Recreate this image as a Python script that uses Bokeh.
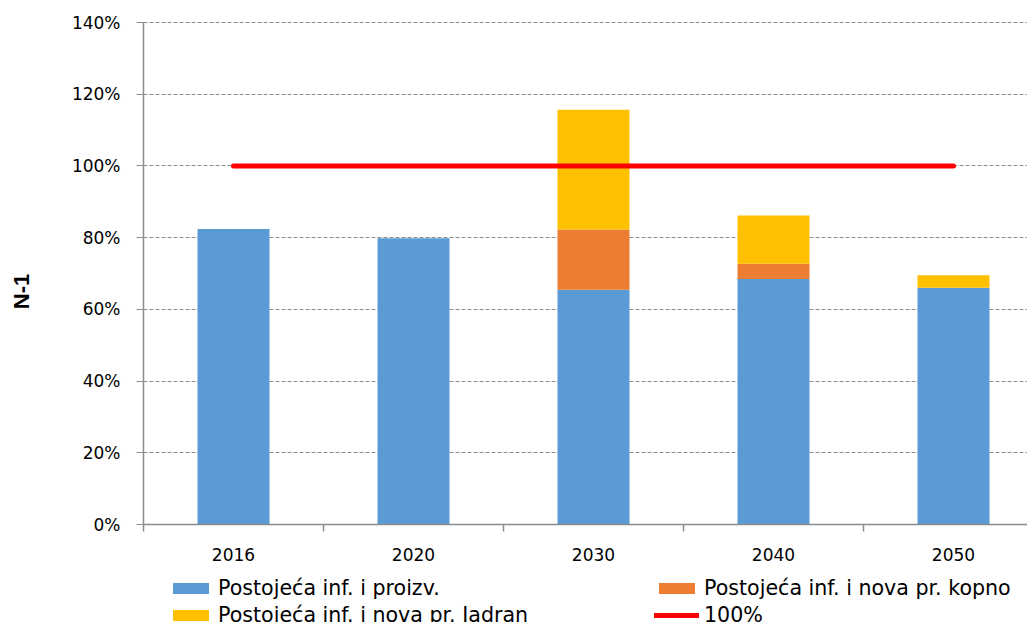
import math
from bokeh.plotting import figure
from bokeh.models import (ColumnDataSource, FixedTicker, Legend, LegendItem,
                          Range1d, NumeralTickFormatter, Label)
from bokeh.embed import file_html
from bokeh.resources import INLINE

categories = ["2016", "2020", "2030", "2040", "2050"]
existing = [0.824, 0.798, 0.655, 0.685, 0.660]       # Postojeća inf. i proizv.
new_land = [0.0, 0.0, 0.168, 0.042, 0.0]            # Postojeća inf. i nova pr. kopno
new_adriatic = [0.0, 0.0, 0.334, 0.135, 0.035]      # Postojeća inf. i nova pr. Jadran
limit = [1.0, 1.0, 1.0, 1.0, 1.0]                   # 100%
y_ticks = [0.0, 0.2, 0.4, 0.6, 0.8, 1.0, 1.2, 1.4]
y_title = "N-1"

labels = ["Postojeća inf. i proizv.", "Postojeća inf. i nova pr. kopno",
          "Postojeća inf. i nova pr. Jadran", "100%"]
colors = ["#5B9BD5", "#ED7D31", "#FFC000"]

xpos = [i + 0.5 for i in range(len(categories))]
src = ColumnDataSource(dict(x=xpos, existing=existing, new_land=new_land,
                            new_adriatic=new_adriatic, limit=limit))

# layout (pixels): the frame fills the whole canvas, axes are pinned inside it
W, H = 1027, 622
LEFT, TOP, ZERO_Y = 143, 22, 524
CAT_W = 180.0
y_top = 1.4
px_per_unit = (ZERO_Y - TOP) / y_top
y_start = -(H - ZERO_Y) / px_per_unit
y_end = y_top + TOP / px_per_unit
x_start = -LEFT / CAT_W
x_end = (W - LEFT) / CAT_W

p = figure(width=W, height=H, output_backend="svg", toolbar_location=None,
           x_range=Range1d(x_start, x_end), y_range=Range1d(y_start, y_end),
           min_border_left=0, min_border_right=0, min_border_top=0,
           min_border_bottom=0)
p.outline_line_color = None
p.background_fill_color = "white"
p.border_fill_color = "white"

grid_color = "#8C8C8C"
grid_dash = "4 2"
g = p.ygrid[0]
g.ticker = FixedTicker(ticks=y_ticks)
g.grid_line_color = grid_color
g.grid_line_dash = grid_dash
g.grid_line_width = 1
if "cross_bounds" in g.properties():
    g.cross_bounds = (0, x_end)
else:
    g.visible = False
    p.segment(x0=[0] * len(y_ticks), x1=[x_end] * len(y_ticks), y0=y_ticks,
              y1=y_ticks, line_color=grid_color, line_dash=grid_dash, line_width=1)
p.xgrid.visible = False

bars = p.vbar_stack(["existing", "new_land", "new_adriatic"], x="x", width=0.4,
                    color=colors, line_color=None, source=src)
line = p.line("x", "limit", source=src, line_color="#FF0000", line_width=5,
              line_cap="round")

axis_color = "#8C8C8C"
# y axis pinned at x = 0
ya = p.yaxis[0]
ya.fixed_location = 0
ya.ticker = FixedTicker(ticks=y_ticks)
ya.bounds = (0, y_top)
ya.formatter = NumeralTickFormatter(format="0%")
ya.axis_line_color = axis_color
ya.axis_line_width = 1.5
ya.major_tick_line_color = axis_color
ya.major_tick_out = 7
ya.major_tick_in = 0
ya.minor_tick_line_color = None
ya.major_label_text_font = "DejaVu Sans"
ya.major_label_text_font_size = "17px"
ya.major_label_text_color = "#000000"
ya.major_label_standoff = 16

# y-axis title
p.add_layout(Label(x=21, y=H - 291, x_units="screen", y_units="screen",
                   text=y_title, angle=math.pi / 2, text_align="center",
                   text_baseline="middle", text_font="Liberation Sans",
                   text_font_style="bold", text_font_size="22px",
                   text_color="#000000"))

# x axis pinned at y = 0
xa = p.xaxis[0]
xa.fixed_location = 0
xa.bounds = (0, x_end)
xa.ticker = FixedTicker(ticks=xpos, minor_ticks=[0, 1, 2, 3, 4, 5])
xa.major_label_overrides = {x: c for x, c in zip(xpos, categories)}
xa.axis_line_color = axis_color
xa.axis_line_width = 1.5
xa.major_tick_line_color = None
xa.major_tick_out = 0
xa.major_tick_in = 0
xa.minor_tick_line_color = axis_color
xa.minor_tick_line_width = 1.5
xa.minor_tick_out = 7
xa.minor_tick_in = 0
xa.major_label_text_font = "DejaVu Sans"
xa.major_label_text_font_size = "17px"
xa.major_label_text_color = "#000000"
xa.major_label_standoff = 16

def make_legend(items, loc):
    return Legend(items=items, location=loc, orientation="vertical",
                  glyph_width=45, glyph_height=14, label_standoff=5,
                  label_height=27, padding=0, margin=0, spacing=0,
                  border_line_color=None, background_fill_alpha=0,
                  label_text_font="DejaVu Sans", label_text_font_size="20.6px",
                  label_text_color="#000000")

leg1 = make_legend([LegendItem(label=labels[0], renderers=[bars[0]]),
                    LegendItem(label=labels[2], renderers=[bars[2]])], (168, -6))
leg2 = make_legend([LegendItem(label=labels[1], renderers=[bars[1]]),
                    LegendItem(label=labels[3], renderers=[line])], (654, -6))
p.add_layout(leg1, "center")
p.add_layout(leg2, "center")

open("out.html", "w").write(file_html(p, INLINE))
